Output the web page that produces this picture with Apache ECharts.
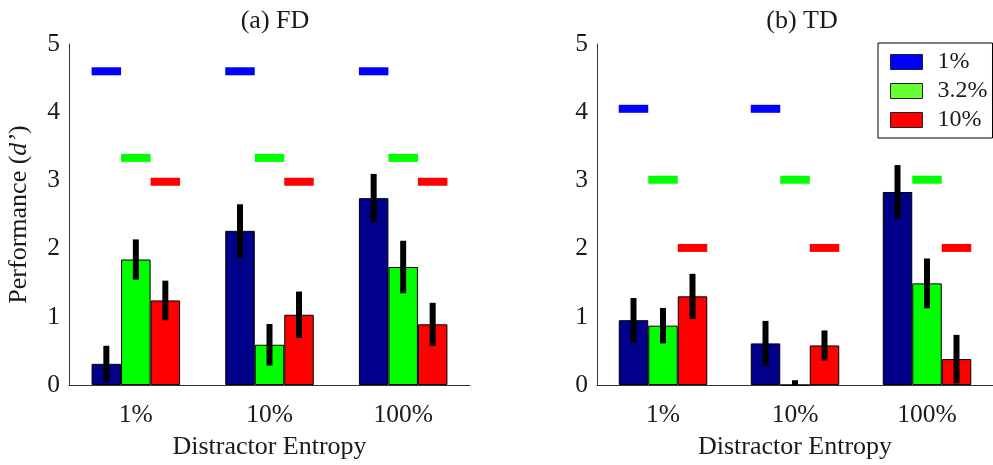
<!DOCTYPE html>
<html>
<head>
<meta charset="utf-8">
<script src="https://cdn.jsdelivr.net/npm/echarts@6/dist/echarts.min.js"></script>
<style>
  html, body { margin: 0; padding: 0; background: #fff; }
  #chart { width: 993px; height: 465px; }
</style>
</head>
<body>
<div id="chart"></div>
<script>
// Distractor entropy conditions (x categories) and target proportion series
const categories = ['1%', '10%', '100%'];
const seriesNames = ['1%', '3.2%', '10%'];

// (a) FD: mean d' per series, across the three entropy levels
const fdLow = [0.31, 2.26, 2.74];
const fdMid = [1.84, 0.59, 1.73];
const fdHigh = [1.24, 1.03, 0.89];
// (a) FD: error bar half-lengths
const fdLowErr = [0.265, 0.39, 0.355];
const fdMidErr = [0.295, 0.305, 0.385];
const fdHighErr = [0.29, 0.34, 0.315];
// (a) FD: reference levels
const fdLowRef = [4.60, 4.60, 4.60];
const fdMidRef = [3.33, 3.33, 3.33];
const fdHighRef = [2.98, 2.98, 2.98];

// (b) TD: mean d'
const tdLow = [0.95, 0.61, 2.83];
const tdMid = [0.87, 0.0, 1.49];
const tdHigh = [1.30, 0.58, 0.38];
// (b) TD: error bar half-lengths
const tdLowErr = [0.325, 0.33, 0.395];
const tdMidErr = [0.26, 0.07, 0.365];
const tdHighErr = [0.33, 0.22, 0.355];
// (b) TD: reference levels (no 1% level at 100% entropy)
const tdLowRef = [4.05, 4.05, null];
const tdMidRef = [3.01, 3.01, 3.01];
const tdHighRef = [2.01, 2.01, 2.01];

const FONT = "'Liberation Serif', 'Times New Roman', serif";
const BAR_W = 29.5;
const barColors = ['#00008a', '#00ff00', '#ff0000'];
const refColors = ['#0000ff', '#00ff00', '#ff0000'];
const legendColors = ['#0000ff', '#66ff33', '#ff0000'];

function clampY(y, cs) {
  return Math.min(Math.max(y, cs.y), cs.y + cs.height);
}

// Black error bar drawn over bar number `slot` of each group
function errorSeries(grid, means, errs, slot) {
  return {
    type: 'custom',
    xAxisIndex: grid, yAxisIndex: grid,
    z: 5,
    silent: true,
    data: means.map((m, i) => [i, m, errs[i]]),
    encode: { x: 0, y: 1 },
    renderItem: function (params, api) {
      const i = api.value(0), m = api.value(1), e = api.value(2);
      const cs = params.coordSys;
      const top = api.coord([i, m + e]);
      const bot = api.coord([i, m - e]);
      const x = top[0] + (slot - 1) * BAR_W;
      const y1 = clampY(top[1], cs), y2 = clampY(bot[1], cs);
      return {
        type: 'rect',
        shape: { x: x - 3, y: y1, width: 6, height: y2 - y1 },
        style: { fill: '#000' }
      };
    }
  };
}

// Short coloured dash marking a reference level above each bar
function refSeries(grid, levels, slot) {
  return {
    type: 'custom',
    xAxisIndex: grid, yAxisIndex: grid,
    z: 4,
    silent: true,
    data: levels.map((v, i) => [i, v]).filter(d => d[1] != null),
    encode: { x: 0, y: 1 },
    renderItem: function (params, api) {
      const p = api.coord([api.value(0), api.value(1)]);
      const x = p[0] + (slot - 1) * BAR_W;
      return {
        type: 'rect',
        shape: { x: x - BAR_W / 2, y: p[1] - 4, width: BAR_W, height: 8 },
        style: { fill: refColors[slot] }
      };
    }
  };
}

function barSeries(grid, values, slot) {
  return {
    type: 'bar',
    name: seriesNames[slot],
    xAxisIndex: grid, yAxisIndex: grid,
    data: values,
    barWidth: BAR_W,
    barGap: '0%',
    itemStyle: { color: barColors[slot], borderColor: '#000', borderWidth: 1 },
    emphasis: { disabled: true }
  };
}

const tickText = { fontFamily: FONT, fontSize: 25.5, color: '#1a1a1a' };
const nameText = { fontFamily: FONT, fontSize: 26, color: '#1a1a1a' };

function xAxisFor(grid) {
  return {
    type: 'category',
    gridIndex: grid,
    data: categories,
    name: 'Distractor Entropy',
    nameLocation: 'middle',
    nameGap: 49,
    nameTextStyle: nameText,
    axisLine: { lineStyle: { color: '#333', width: 1 } },
    axisTick: { show: false },
    axisLabel: Object.assign({ margin: 17 }, tickText)
  };
}

function yAxisFor(grid, withName) {
  const ax = {
    type: 'value',
    gridIndex: grid,
    min: 0, max: 5, interval: 1,
    axisLine: { show: true, lineStyle: { color: '#333', width: 1 } },
    axisTick: { show: false },
    splitLine: { show: false },
    axisLabel: Object.assign({ margin: 9 }, tickText)
  };
  if (withName) {
    ax.name = 'Performance ({i|d’})';
    ax.nameLocation = 'middle';
    ax.nameGap = 37;
    ax.nameTextStyle = Object.assign({}, nameText, {
      rich: { i: { fontFamily: FONT, fontSize: 26, fontStyle: 'italic', color: '#1a1a1a' } }
    });
  }
  return ax;
}

const chart = echarts.init(document.getElementById('chart'), null, { renderer: 'canvas' });

chart.setOption({
  animation: false,
  backgroundColor: '#fff',
  title: [
    { text: '(a) FD', left: 270, top: 3, textAlign: 'center',
      textStyle: { fontFamily: FONT, fontSize: 26, fontWeight: 'normal', color: '#1a1a1a' } },
    { text: '(b) TD', left: 797, top: 3, textAlign: 'center',
      textStyle: { fontFamily: FONT, fontSize: 26, fontWeight: 'normal', color: '#1a1a1a' } }
  ],
  grid: [
    { left: 69, top: 44, width: 401, height: 348 },
    { left: 597, top: 44, width: 401, height: 348 }
  ],
  legend: {
    left: 878, top: 43,
    orient: 'vertical',
    backgroundColor: '#fff',
    borderColor: '#000', borderWidth: 1,
    padding: [7, 5, 6, 12],
    itemWidth: 32, itemHeight: 15, itemGap: 5,
    icon: 'rect',
    selectedMode: false,
    textStyle: { fontFamily: FONT, fontSize: 24, color: '#1a1a1a', padding: [0, 0, 0, 10] },
    data: seriesNames.map((n, k) => ({
      name: n,
      itemStyle: { color: legendColors[k], borderColor: '#222', borderWidth: 1 }
    }))
  },
  xAxis: [xAxisFor(0), xAxisFor(1)],
  yAxis: [yAxisFor(0, true), yAxisFor(1, false)],
  series: [
    barSeries(0, fdLow, 0), barSeries(0, fdMid, 1), barSeries(0, fdHigh, 2),
    errorSeries(0, fdLow, fdLowErr, 0), errorSeries(0, fdMid, fdMidErr, 1), errorSeries(0, fdHigh, fdHighErr, 2),
    refSeries(0, fdLowRef, 0), refSeries(0, fdMidRef, 1), refSeries(0, fdHighRef, 2),
    barSeries(1, tdLow, 0), barSeries(1, tdMid, 1), barSeries(1, tdHigh, 2),
    errorSeries(1, tdLow, tdLowErr, 0), errorSeries(1, tdMid, tdMidErr, 1), errorSeries(1, tdHigh, tdHighErr, 2),
    refSeries(1, tdLowRef, 0), refSeries(1, tdMidRef, 1), refSeries(1, tdHighRef, 2)
  ]
});
</script>
</body>
</html>
